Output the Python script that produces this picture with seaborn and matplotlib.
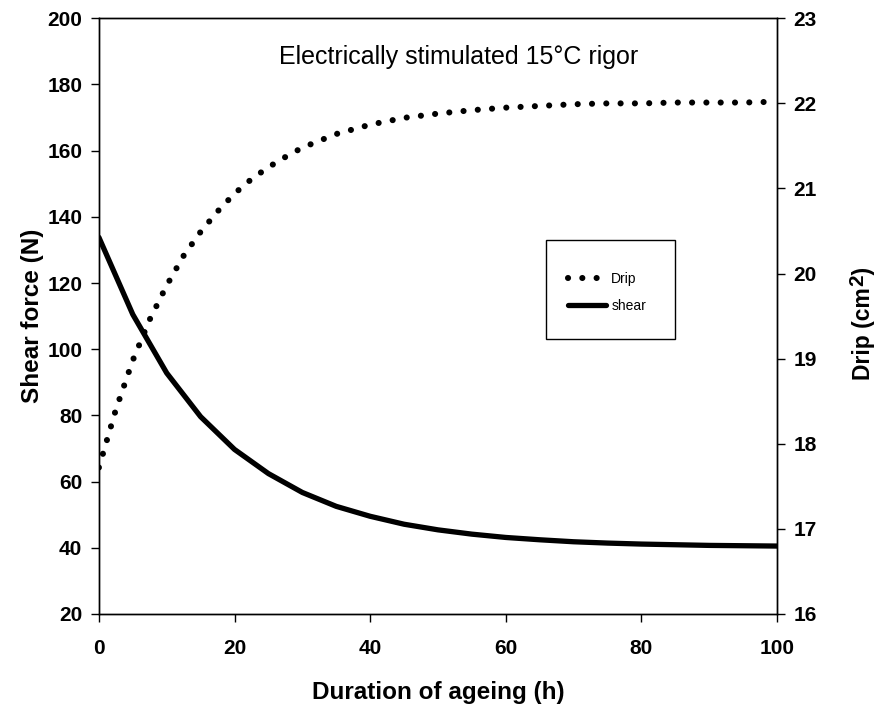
import numpy as np
import pandas as pd
import seaborn as sns
import matplotlib
matplotlib.use("Agg")
import matplotlib.pyplot as plt
from matplotlib.patches import Rectangle

# data (hours of ageing)
hours_shear = [0, 5, 10, 15, 20, 25, 30, 35, 40, 45, 50,
               55, 60, 65, 70, 75, 80, 85, 90, 95, 100]
shear = [133.8, 110.5, 92.8, 79.6, 69.7, 62.4, 56.7, 52.5, 49.5, 47.1, 45.4,
         44.1, 43.1, 42.4, 41.8, 41.4, 41.1, 40.9, 40.7, 40.6, 40.5]

hours_drip = [0, 2.5, 5, 7.5, 10, 12.5, 15, 17.5, 20, 22.5, 25, 27.5, 30,
              35, 40, 45, 50, 55, 60, 65, 70, 75, 80, 85, 90, 95, 100]
drip = [17.72, 18.40, 18.98, 19.46, 19.86, 20.21, 20.49, 20.73, 20.94, 21.11,
        21.25, 21.37, 21.48, 21.64, 21.75, 21.83, 21.88, 21.92, 21.95, 21.97,
        21.99, 22.00, 22.00, 22.01, 22.01, 22.01, 22.02]

x_ticks = [0, 20, 40, 60, 80, 100]
left_ticks = [20, 40, 60, 80, 100, 120, 140, 160, 180, 200]
right_ticks = [16, 17, 18, 19, 20, 21, 22, 23]

df_shear = pd.DataFrame({"hours": hours_shear, "shear": shear})
df_drip = pd.DataFrame({"hours": hours_drip, "drip": drip})

sns.set_style("ticks")
plt.rcParams['font.family'] = ['Liberation Sans', 'DejaVu Sans']
plt.rcParams.update({
    'axes.linewidth': 1.0,
    'axes.edgecolor': 'black',
    'text.color': 'black',
    'axes.labelcolor': 'black',
    'xtick.color': 'black',
    'ytick.color': 'black',
})

fig, ax = plt.subplots(figsize=(8.79, 7.04), dpi=100)
fig.subplots_adjust(left=0.1125, right=0.884, bottom=0.128, top=0.974)
ax2 = ax.twinx()

sns.lineplot(data=df_shear, x="hours", y="shear", ax=ax, color="black",
             lw=3.8, label="shear", legend=False)
sns.lineplot(data=df_drip, x="hours", y="drip", ax=ax2, color="black",
             lw=4.4, linestyle=(0, (0.01, 2.33)), dash_capstyle="round",
             label="Drip", legend=False)

ax.set_xlim(0, 100)
ax.set_ylim(20, 200)
ax2.set_ylim(16, 23)
ax.set_xticks(x_ticks)
ax.set_yticks(left_ticks)
ax2.set_yticks(right_ticks)

ax.tick_params(axis="y", direction="out", length=6, width=1, labelsize=15, pad=6)
ax.tick_params(axis="x", direction="out", length=6, width=1, labelsize=15, pad=12)
ax2.tick_params(axis="y", direction="out", length=6, width=1, labelsize=15, pad=6)
for lbl in ax.get_xticklabels() + ax.get_yticklabels() + ax2.get_yticklabels():
    lbl.set_fontweight("bold")

ax.set_xlabel("Duration of ageing (h)", fontsize=17.5, fontweight="bold", labelpad=17)
ax.set_ylabel("Shear force (N)", fontsize=17.5, fontweight="bold", labelpad=2)
ax2.set_ylabel("Drip (cm  )", fontsize=16.5, fontweight="bold")
ax2.yaxis.set_label_coords(1.1106, 0.488)
fig.text(857.5 / 879, 1 - 280 / 704, "2", rotation=90, fontsize=15,
         fontweight="bold", ha="center", va="center")

ax.text(0.53, 0.935, "Electrically stimulated 15°C rigor", transform=ax.transAxes,
        fontsize=18, ha="center", va="center")

# legend box drawn as a plain rectangle, entries placed inside it
ax2.add_patch(Rectangle((0.659, 0.4614), 0.1907, 0.1661, transform=ax2.transAxes,
                        facecolor="white", edgecolor="black", lw=1.0, zorder=5))
h1, l1 = ax2.get_legend_handles_labels()
h2, l2 = ax.get_legend_handles_labels()
leg = ax2.legend(h1 + h2, l1 + l2, loc="upper left", bbox_to_anchor=(0.692, 0.5745),
                 borderaxespad=0, borderpad=0, fontsize=10, frameon=False,
                 handlelength=2.7, handletextpad=0.4, labelspacing=0.95)
leg.set_zorder(6)

fig.savefig("out.png", dpi=100)
